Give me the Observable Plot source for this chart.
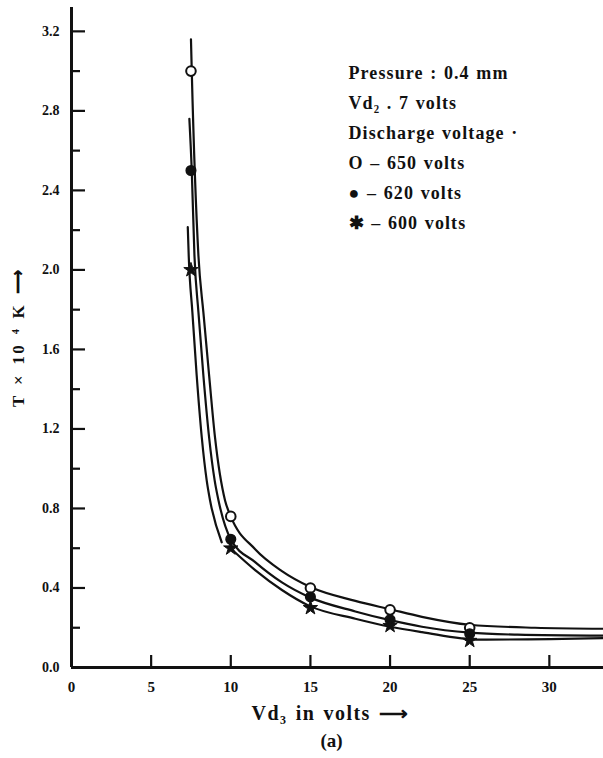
<!DOCTYPE html>
<html>
<head>
<meta charset="utf-8">
<script src="https://cdn.jsdelivr.net/npm/d3@7"></script>
<script src="https://cdn.jsdelivr.net/npm/@observablehq/plot@0.6"></script>
<style>
  html, body { margin: 0; padding: 0; background: #fff; }
  svg { display: block; }
</style>
</head>
<body>
<div id="chart"></div>
<script>
// Measured points (Vd3 in volts, T x 10^4 K)
const vd3 = [7.5, 10, 15, 20, 25];
const t650 = [3.0, 0.76, 0.40, 0.29, 0.20];
const t620 = [2.5, 0.645, 0.355, 0.24, 0.17];
const t600 = [2.0, 0.60, 0.30, 0.21, 0.135];

// Fitted curves as drawn (samples)
const c650x = [7.5, 7.55, 7.97, 8.28, 8.64, 9.01, 9.64, 10.0, 11.53, 13.21, 15.0, 17.82, 20.0, 22.0, 25.0, 29.1, 33.4];
const c650y = [3.16, 3.0, 2.07, 1.786, 1.469, 1.157, 0.84, 0.76, 0.595, 0.485, 0.405, 0.335, 0.293, 0.255, 0.215, 0.20, 0.195];
const c620x = [7.4, 7.55, 7.72, 7.97, 8.28, 8.64, 8.99, 9.23, 10.0, 11.53, 13.21, 14.93, 17.82, 20.0, 22.0, 25.0, 28.0, 33.4];
const c620y = [2.76, 2.5, 2.07, 1.786, 1.469, 1.157, 0.94, 0.84, 0.645, 0.53, 0.428, 0.354, 0.282, 0.238, 0.205, 0.175, 0.165, 0.16];
const c600x = [7.3, 7.36, 7.59, 7.86, 8.18, 8.49, 8.70, 9.43, 10.05, 11.53, 13.21, 14.93, 17.82, 20.0, 22.0, 25.6, 33.4];
const c600y = [2.215, 2.07, 1.786, 1.469, 1.157, 0.94, 0.84, 0.63, 0.595, 0.49, 0.39, 0.31, 0.245, 0.205, 0.178, 0.14, 0.148];
const c600seg = [0, 0, 0, 0, 0, 0, 0, 0, 1, 1, 1, 1, 1, 1, 1, 1, 1];

// Axis ticks and texts
const yMajor = [0, 0.4, 0.8, 1.2, 1.6, 2.0, 2.4, 2.8, 3.2];
const yMinor = [0.2, 0.6, 1.0, 1.4, 1.8, 2.2, 2.6, 3.0];
const xMajor = [0, 5, 10, 15, 20, 25, 30];
const legendLines = ["Pressure : 0.4 mm", "Vd\u2082 . 7 volts", "Discharge voltage \u00b7", "O \u2013 650 volts", "\u25cf \u2013 620 volts", "\u2731 \u2013 600 volts"];
const xLabel = "Vd\u2083 in volts \u27f6";
const yLabel = "T \u00d7 10 \u2074 K \u27f6";
const caption = "(a)";

const pts = (ys) => vd3.map((x, i) => ({x, y: ys[i]}));
const crv = (xs, ys, seg) => xs.map((x, i) => ({x, y: ys[i], s: seg ? seg[i] : 0}));

const font = "'Liberation Serif', 'Times New Roman', serif";

const chart = Plot.plot({
  width: 603,
  height: 758,
  marginLeft: 71,
  marginRight: 0,
  marginTop: 7,
  marginBottom: 91,
  style: {fontFamily: font, fontWeight: "bold", background: "#fff", color: "#111"},
  x: {domain: [0, 33.4]},
  y: {domain: [0, 3.32]},
  marks: [
    Plot.axisY({ticks: yMinor, tickSize: -9, text: null, strokeWidth: 2.2, label: null}),
    Plot.axisY({ticks: yMajor, tickSize: -14, tickPadding: 26, strokeWidth: 2.2,
      tickFormat: d => d.toFixed(1), fontSize: 14, fontWeight: "bold", label: null}),
    Plot.axisX({ticks: xMajor, tickSize: -12, tickPadding: 26, strokeWidth: 2.2,
      tickFormat: d => String(d), fontSize: 15, fontWeight: "bold", label: null}),
    Plot.ruleX([0], {stroke: "#111", strokeWidth: 3}),
    Plot.ruleY([0], {stroke: "#111", strokeWidth: 3}),
    Plot.line(crv(c650x, c650y), {x: "x", y: "y", curve: "monotone-x", stroke: "#111", strokeWidth: 2.2}),
    Plot.line(crv(c620x, c620y), {x: "x", y: "y", curve: "monotone-x", stroke: "#111", strokeWidth: 2.2}),
    Plot.line(crv(c600x, c600y, c600seg), {x: "x", y: "y", z: "s", curve: "monotone-x", stroke: "#111", strokeWidth: 2.2}),
    Plot.dot(pts(t650), {x: "x", y: "y", r: 4.8, fill: "#fff", stroke: "#111", strokeWidth: 2}),
    Plot.dot(pts(t620), {x: "x", y: "y", r: 4.8, fill: "#111", stroke: "#111"}),
    Plot.dot(pts(t600), {x: "x", y: "y", r: 4.5, symbol: "star", fill: "#111", stroke: "#111", strokeWidth: 1}),
    Plot.text([legendLines.join("\n")], {frameAnchor: "top-left", textAnchor: "start", lineAnchor: "top",
      dx: 277, dy: 50, fontSize: 18, lineHeight: 1.667, fill: "#111"}),
    Plot.text([xLabel], {frameAnchor: "bottom", textAnchor: "middle", lineAnchor: "middle", dx: -7, dy: 46, fontSize: 20, fill: "#111"}),
    Plot.text([caption], {frameAnchor: "bottom", textAnchor: "middle", lineAnchor: "middle", dx: -6, dy: 73, fontSize: 19, fill: "#111"}),
    Plot.text([yLabel], {frameAnchor: "left", textAnchor: "middle", lineAnchor: "middle", rotate: -90, dx: -53, dy: 0, fontSize: 17, fill: "#111"})
  ]
});
const groups = chart.querySelectorAll("g[aria-label='text']");
const spacing = [["1.1px", "1px"], ["1.4px", "2px"], ["0px", "0px"], ["2.3px", "2px"]];
groups.forEach((g, i) => {
  const sp = spacing[i] || ["0px", "0px"];
  g.querySelectorAll("text").forEach(t => {
    t.setAttribute("letter-spacing", sp[0]);
    t.setAttribute("word-spacing", sp[1]);
  });
});
document.getElementById("chart").appendChild(chart);
</script>
</body>
</html>
